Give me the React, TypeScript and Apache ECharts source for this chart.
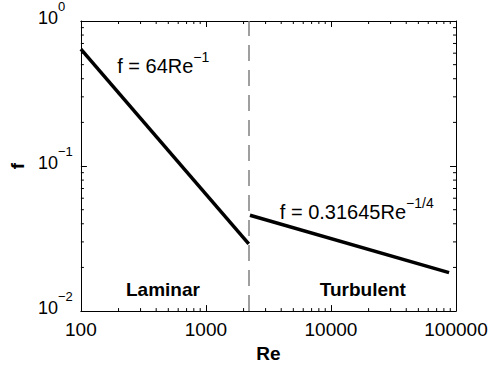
import React, { useEffect, useRef } from "react";
import * as echarts from "echarts";

const X_MIN = 100;
const X_MAX = 100000;
const Y_MIN = 0.01;
const Y_MAX = 1;
const transitionRe = 2200;

const laminarRe = [100, 2200];
const laminarF = [0.64, 0.0291];
const turbulentRe = [2250, 88000];
const turbulentF = [0.0458, 0.0184];

const xMinorTicks = [200, 300, 400, 500, 600, 700, 800, 900, 2000, 3000, 4000, 5000, 6000, 7000, 8000, 9000, 20000, 30000, 40000, 50000, 60000, 70000, 80000, 90000];
const yMinorTicks = [0.02, 0.03, 0.04, 0.05, 0.06, 0.07, 0.08, 0.09, 0.2, 0.3, 0.4, 0.5, 0.6, 0.7, 0.8, 0.9];

const FONT = "'Liberation Sans', Arial, Helvetica, sans-serif";

export default function App() {
  const ref = useRef<HTMLDivElement>(null);
  useEffect(() => {
    if (!ref.current) return;
    const chart = echarts.init(ref.current, null, { renderer: "svg" });
    const supRich = {
      b: { fontSize: 18, fontFamily: FONT, color: "#000", verticalAlign: "bottom", lineHeight: 18 },
      s: { fontSize: 13, fontFamily: FONT, color: "#000", verticalAlign: "bottom", lineHeight: 13, padding: [0, 0, 14, 0] },
    };
    const annRich = {
      b: { fontSize: 20, fontFamily: FONT, color: "#000", verticalAlign: "bottom", lineHeight: 20 },
      s: { fontSize: 14, fontFamily: FONT, color: "#000", verticalAlign: "bottom", lineHeight: 14, padding: [0, 0, 12, 0] },
    };
    const axisCommon = {
      type: "log" as const,
      logBase: 10,
      axisLine: { show: true, onZero: false, lineStyle: { color: "#000", width: 1 } },
      axisTick: { show: true, inside: true, length: 6, lineStyle: { color: "#000", width: 1 } },
      splitLine: { show: false },
      minorTick: { show: false },
    };
    const option = {
      animation: false,
      backgroundColor: "#fff",
      grid: { left: 79, right: 35, top: 18, bottom: 53, containLabel: false },
      xAxis: [
        {
          ...axisCommon,
          min: X_MIN,
          max: X_MAX,
          position: "bottom",
          name: "Re",
          nameLocation: "middle",
          nameGap: 32,
          nameTextStyle: { fontSize: 19, fontWeight: "bold", fontFamily: FONT, color: "#000" },
          axisLabel: {
            margin: 9,
            fontSize: 19,
            fontFamily: FONT,
            color: "#000",
            formatter: (v: number) => String(Math.round(v)),
          },
        },
        {
          ...axisCommon,
          min: X_MIN,
          max: X_MAX,
          position: "top",
          axisLabel: { show: false },
        },
      ],
      yAxis: [
        {
          ...axisCommon,
          min: Y_MIN,
          max: Y_MAX,
          position: "left",
          name: "f",
          nameLocation: "middle",
          nameRotate: 90,
          nameGap: 48,
          nameTextStyle: { fontSize: 19, fontWeight: "bold", fontFamily: FONT, color: "#000" },
          axisLabel: {
            margin: 43,
            align: "left",
            padding: [0, 0, 6, 0],
            rich: supRich,
            formatter: (v: number) => {
              const e = Math.round(Math.log10(v));
              return `{b|10}{s|${e < 0 ? "\u2212" + Math.abs(e) : String(e)}}`;
            },
          },
        },
        {
          ...axisCommon,
          min: Y_MIN,
          max: Y_MAX,
          position: "right",
          axisLabel: { show: false },
        },
      ],
      series: [
        {
          name: "Laminar",
          type: "line",
          data: laminarRe.map((r, i) => [r, laminarF[i]]),
          symbol: "none",
          lineStyle: { color: "#000", width: 3.5 },
          markLine: {
            silent: true,
            symbol: "none",
            label: { show: false },
            lineStyle: { color: "#808080", width: 1.5, type: [16, 9] },
            data: [{ xAxis: transitionRe }],
          },
        },
        {
          name: "Turbulent",
          type: "line",
          data: turbulentRe.map((r, i) => [r, turbulentF[i]]),
          symbol: "none",
          lineStyle: { color: "#000", width: 3.5 },
        },
        {
          name: "xMinor",
          type: "custom",
          silent: true,
          clip: false,
          data: xMinorTicks.map((v) => [v, Y_MIN]),
          renderItem: (params: any, api: any) => {
            const v = api.value(0);
            const b = api.coord([v, Y_MIN]);
            const t = api.coord([v, Y_MAX]);
            const st = { stroke: "#000", lineWidth: 1 };
            return {
              type: "group",
              children: [
                { type: "line", shape: { x1: b[0], y1: b[1], x2: b[0], y2: b[1] - 3 }, style: st },
                { type: "line", shape: { x1: t[0], y1: t[1], x2: t[0], y2: t[1] + 3 }, style: st },
              ],
            };
          },
        },
        {
          name: "yMinor",
          type: "custom",
          silent: true,
          clip: false,
          data: yMinorTicks.map((v) => [X_MIN, v]),
          renderItem: (params: any, api: any) => {
            const v = api.value(1);
            const l = api.coord([X_MIN, v]);
            const r = api.coord([X_MAX, v]);
            const st = { stroke: "#000", lineWidth: 1 };
            return {
              type: "group",
              children: [
                { type: "line", shape: { x1: l[0], y1: l[1], x2: l[0] + 3, y2: l[1] }, style: st },
                { type: "line", shape: { x1: r[0], y1: r[1], x2: r[0] - 3, y2: r[1] }, style: st },
              ],
            };
          },
        },
        {
          name: "annotations",
          type: "scatter",
          symbolSize: 0,
          silent: true,
          itemStyle: { opacity: 1 },
          data: [
            { value: [195, 0.49], label: { formatter: "{b|f = 64Re}{s|\u22121}" } },
            { value: [3900, 0.0486], label: { formatter: "{b|f = 0.31645Re}{s|\u22121/4}" } },
          ],
          label: { show: true, position: "right", distance: 0, rich: annRich, color: "#000", opacity: 1 },
        },
        {
          name: "regions",
          type: "scatter",
          symbolSize: 0,
          silent: true,
          itemStyle: { opacity: 1 },
          data: [
            { value: [453, 0.0141], label: { formatter: "Laminar" } },
            { value: [17990, 0.0141], label: { formatter: "Turbulent" } },
          ],
          label: { show: true, position: "inside", fontSize: 19, fontWeight: "bold", fontFamily: FONT, color: "#000", opacity: 1 },
        },
      ],
    };
    chart.setOption(option as any);
    return () => chart.dispose();
  }, []);
  return <div ref={ref} style={{ position: "fixed", left: 0, top: 0, width: 491, height: 368 }} />;
}
